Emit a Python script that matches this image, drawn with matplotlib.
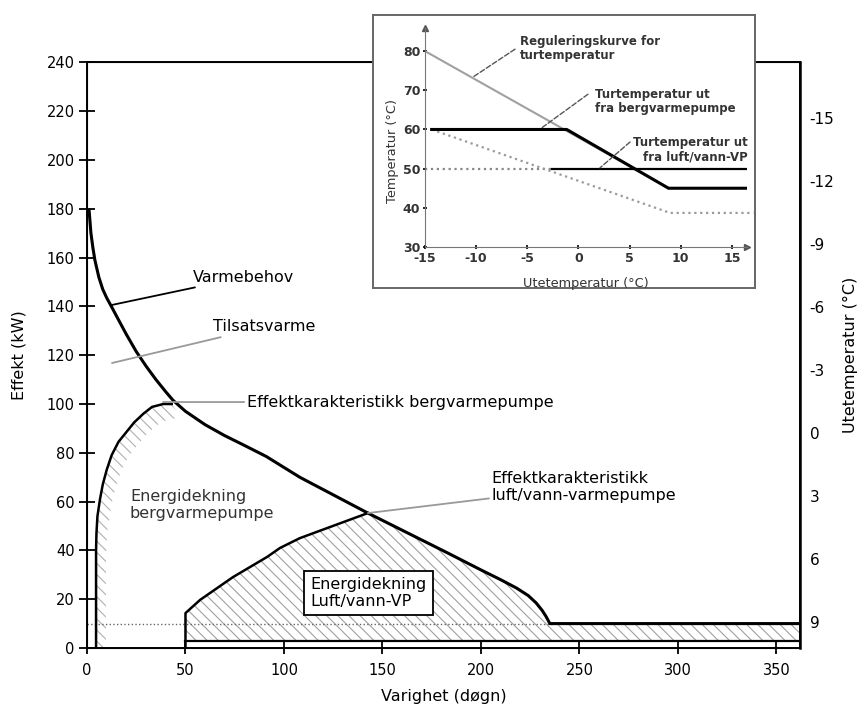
import matplotlib
matplotlib.use('Agg')
from matplotlib import pyplot as plt

font_size = 10.5
label_size = 11.5
matplotlib.rcParams.update({'font.size': font_size, 'font.family': 'DejaVu Sans',
                            'axes.unicode_minus': False, 'hatch.linewidth': 0.8})

# main chart: duration curves (days, kW)
vb_days = [1, 2, 3, 4, 6, 8, 10, 12.7, 16, 20, 25, 30, 35, 40, 43.7, 50, 60, 70, 80, 91, 108,
		   142.6, 183, 200, 210, 218, 224, 228, 231, 233, 235, 362]
vb_kw = [180, 170, 164, 159, 152, 147, 143.5, 139.5, 134.5, 128.5, 121.5, 115.5, 110, 105, 101.5, 97,
		 91.5, 87, 83, 78.5, 70, 55.3, 39, 32, 28, 24.6, 21.5, 18.5, 15.5, 13, 10, 10]
berg_days = [4.6, 4.6, 4.8, 5.3, 6.6, 8, 10, 12.5, 16, 20, 24, 28.6, 33, 38.7, 43]
berg_kw = [0, 40, 47, 54, 61, 67, 73, 79, 84.5, 88.5, 92.5, 96, 98.8, 100, 100]
luft_days = [50, 50, 57.4, 74, 91.4, 98, 108, 114.7, 142.6]
luft_kw = [0, 14.3, 19.7, 29, 37.3, 41, 45, 47, 55.3]
base_kw = 3
dotted_kw = 10
dotted_end = 236

x_ticks = [0, 50, 100, 150, 200, 250, 300, 350]
y_ticks = list(range(0, 241, 20))
temp_ticks = [-15, -12, -9, -6, -3, 0, 3, 6, 9]

# inset: supply temperature vs outdoor temperature
reg_t = [-15, 8.8]
reg_v = [80, 45]
bergvp_t = [-14.35, -1.15, 8.8, 16.45]
bergvp_v = [60, 60, 45, 45]
luftvp_t = [-2.6, 16.45]
luftvp_v = [50, 50]
luftdot_t = [-15, -2.6]
luftdot_v = [50, 50]
ret_t = [-14.35, 8.95, 17.1]
ret_v = [60, 38.7, 38.7]
inset_xticks = [-15, -10, -5, 0, 5, 10, 15]
inset_yticks = [30, 40, 50, 60, 70, 80]

W, H = 861, 707


def box(l, t, r, b):
	return [l / W, 1 - b / H, (r - l) / W, (b - t) / H]


fig = plt.figure(figsize=(W / 100, H / 100), dpi=100)
ax = fig.add_axes(box(87, 62.4, 800, 648))

# hatched coverage areas
luft_poly_x = [50] + luft_days[1:] + [d for d in vb_days if d > 142.6] + [362]
luft_poly_y = [base_kw] + luft_kw[1:] + [k for d, k in zip(vb_days, vb_kw) if d > 142.6] + [base_kw]
ax.fill(luft_poly_x, luft_poly_y, facecolor='none', edgecolor='#a0a0a0', hatch='\\\\\\', lw=0)

off_d, off_k = 5, 6
berg_poly_x = berg_days + [d + off_d for d in berg_days[::-1]]
berg_poly_y = berg_kw + [k - off_k for k in berg_kw[::-1]]
ax.fill(berg_poly_x, berg_poly_y, facecolor='none', edgecolor='#b0b0b0', hatch='\\\\\\', lw=0)

ax.plot([0, dotted_end], [dotted_kw, dotted_kw], ls=':', color='#666666', lw=1)
ax.plot([50, 362], [base_kw, base_kw], color='black', lw=1.6)
ax.plot(luft_days, luft_kw, color='black', lw=1.8)
ax.plot(berg_days, berg_kw, color='black', lw=1.8)
ax.plot(vb_days, vb_kw, color='black', lw=2.2, solid_capstyle='butt')

ax.set_xlim(0, 362)
ax.set_ylim(0, 240)
ax.set_xticks(x_ticks)
ax.set_yticks(y_ticks)
ax.tick_params(axis='x', direction='inout', length=9, width=1.3, pad=6)
ax.tick_params(axis='y', direction='inout', length=12, width=1.3, pad=3)
for s in ax.spines.values():
	s.set_linewidth(1.4)
ax.set_xlabel('Varighet (døgn)', fontsize=label_size, labelpad=8)
ax.set_ylabel('Effekt (kW)', fontsize=label_size, labelpad=14)

ax2 = ax.twinx()
ax2.set_ylim(10.24, -17.66)
ax2.set_yticks(temp_ticks)
ax2.set_yticklabels([str(t) for t in temp_ticks])
ax2.tick_params(axis='y', length=0, pad=7, labelsize=11)
ax2.spines['right'].set_linewidth(1.8)
ax2.set_ylabel('Utetemperatur (°C)', fontsize=label_size, labelpad=6)

# annotations
ax.annotate('Varmebehov', xy=(12.7, 140.6), xytext=(53.8, 152), va='center', fontsize=label_size,
			arrowprops=dict(arrowstyle='-', color='black', lw=1.3, shrinkA=0, shrinkB=0))
ax.annotate('Tilsatsvarme', xy=(12.7, 116.8), xytext=(63.9, 131.6), va='center', fontsize=label_size,
			arrowprops=dict(arrowstyle='-', color='#999999', lw=1.3, shrinkA=0, shrinkB=0))
ax.annotate('Effektkarakteristikk bergvarmepumpe', xy=(38.6, 100.8), xytext=(81.2, 100.8),
			va='center', fontsize=label_size,
			arrowprops=dict(arrowstyle='-', color='#999999', lw=1.3, shrinkA=0, shrinkB=0))
ax.annotate('Effektkarakteristikk\nluft/vann-varmepumpe', xy=(142.6, 55.3), xytext=(205.5, 66),
			va='center', linespacing=1.15, fontsize=label_size,
			arrowprops=dict(arrowstyle='-', color='#999999', lw=1.3, shrinkA=0, shrinkB=0))
ax.text(21.8, 58.6, 'Energidekning\nbergvarmepumpe', va='center', color='#333333', linespacing=1.15,
		fontsize=label_size)
ax.text(113.6, 22.5, 'Energidekning\nLuft/vann-VP', va='center', linespacing=1.15, fontsize=label_size,
		bbox=dict(boxstyle='square,pad=0.4', facecolor='white', edgecolor='black', lw=1.3))

# inset
frame = fig.add_axes(box(373, 15, 755, 288))
frame.set_xticks([])
frame.set_yticks([])
for s in frame.spines.values():
	s.set_color('#666666')
	s.set_linewidth(1.4)

ins = fig.add_axes(box(425, 28, 747, 247))
ins.patch.set_alpha(0)
ins.plot(reg_t, reg_v, color='#a0a0a0', lw=1.5)
ins.plot(luftdot_t, luftdot_v, ls=':', color='#888888', lw=1.6)
ins.plot(ret_t, ret_v, ls=':', color='#9a9a9a', lw=1.6, clip_on=False)
ins.plot(luftvp_t, luftvp_v, color='black', lw=1.6)
ins.plot(bergvp_t, bergvp_v, color='black', lw=2.2)
ins.set_xlim(-15, 16.47)
ins.set_ylim(30, 85.9)
ins.set_xticks(inset_xticks)
ins.set_yticks(inset_yticks)
ins.set_xticklabels([str(t) for t in inset_xticks])
ins.tick_params(direction='inout', length=3, width=1.2, labelsize=9, pad=2)
for lab in ins.get_xticklabels() + ins.get_yticklabels():
	lab.set_fontweight('bold')
	lab.set_color('#333333')
ins.spines['top'].set_visible(False)
ins.spines['right'].set_visible(False)
ins.spines['left'].set_color('#777777')
ins.spines['bottom'].set_color('#777777')
ins.plot(1, 0, '>', color='#555555', ms=4, transform=ins.transAxes, clip_on=False)
ins.plot(0, 1, '^', color='#555555', ms=4, transform=ins.transAxes, clip_on=False)
ins.set_xlabel('Utetemperatur (°C)', fontsize=9.3, color='#333333', labelpad=9)
ins.set_ylabel('Temperatur (°C)', fontsize=9.3, color='#333333')
ins.yaxis.set_label_coords(-0.08, 0.44)

arrow = dict(arrowstyle='-', color='#555555', lw=1, ls='--', shrinkA=0, shrinkB=0)
txt = dict(va='top', fontsize=8.5, fontweight='bold', color='#333333', linespacing=1.1)
ins.text(-5.7, 84.1, 'Reguleringskurve for\nturtemperatur', **txt)
ins.annotate('', xy=(-10.3, 73.4), xytext=(-6.2, 80.5), arrowprops=arrow)
ins.text(1.6, 70.6, 'Turtemperatur ut\nfra bergvarmepumpe', **txt)
ins.annotate('', xy=(-3.6, 60.4), xytext=(0.93, 69.0), arrowprops=arrow)
ins.text(16.5, 58.3, 'Turtemperatur ut\nfra luft/vann-VP', ha='right', multialignment='right', **txt)
ins.annotate('', xy=(2.1, 50.2), xytext=(5.04, 56.8), arrowprops=arrow)

plt.savefig('out.png', dpi=100)
